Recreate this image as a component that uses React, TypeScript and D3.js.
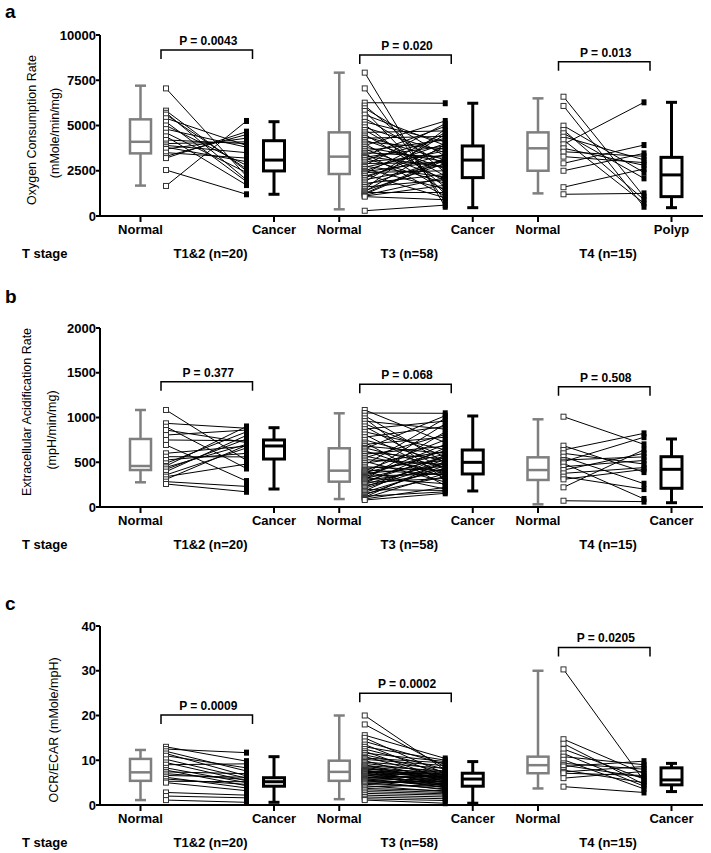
import React from "react";
import * as d3 from "d3";

const GROUP_LABELS = ["T1&2 (n=20)", "T3 (n=58)", "T4 (n=15)"];
const OCR_CATS = [["Normal", "Cancer"], ["Normal", "Cancer"], ["Normal", "Polyp"]];
const STD_CATS = [["Normal", "Cancer"], ["Normal", "Cancer"], ["Normal", "Cancer"]];

const OCR_TICKS = [0, 2500, 5000, 7500, 10000];
const ECAR_TICKS = [0, 500, 1000, 1500, 2000];
const RATIO_TICKS = [0, 10, 20, 30, 40];

const OCR_P = ["P = 0.0043", "P = 0.020", "P = 0.013"];
const ECAR_P = ["P = 0.377", "P = 0.068", "P = 0.508"];
const RATIO_P = ["P = 0.0009", "P = 0.0002", "P = 0.0205"];

const OCR_BRACKET = [9170, 8895, 8525];
const ECAR_BRACKET = [1400, 1371, 1344];
const RATIO_BRACKET = [20.1, 25.0, 35.2];

// box stats: [min, q1, median, q3, max]
const OCR_BOX_NORMAL = [[1680, 3460, 4100, 5340, 7200], [370, 2320, 3280, 4620, 7920], [1250, 2500, 3740, 4620, 6500]];
const OCR_BOX_CANCER = [[1200, 2490, 3090, 4160, 5210], [460, 2120, 3090, 3870, 6230], [460, 1070, 2270, 3240, 6280]];
const ECAR_BOX_NORMAL = [[276, 413, 458, 760, 1084], [89, 283, 406, 656, 1047], [30, 302, 413, 555, 980]];
const ECAR_BOX_CANCER = [[201, 536, 682, 749, 886], [179, 369, 499, 637, 1017], [48, 209, 421, 562, 760]];
const RATIO_BOX_NORMAL = [[1.1, 5.4, 7.3, 10.3, 12.3], [1.3, 5.4, 7.4, 9.9, 20.0], [3.7, 7.1, 8.9, 10.8, 30.0]];
const RATIO_BOX_CANCER = [[0.6, 4.2, 5.2, 6.1, 10.8], [0.4, 4.2, 5.8, 7.1, 9.7], [3.0, 4.5, 5.6, 8.3, 9.3]];

// paired values
const OCR_T12_NORMAL = [7050, 5820, 5700, 5600, 5400, 5200, 5000, 4800, 4600, 4400, 4200, 4000, 3900, 3800, 3700, 3500, 3300, 3200, 2540, 1660];
const OCR_T12_CANCER = [2200, 2500, 2000, 2600, 3900, 1900, 2800, 3800, 2400, 1710, 4000, 4100, 3500, 3000, 4300, 3200, 4500, 4660, 1200, 5250];
const OCR_T3_NORMAL = [7920, 7050, 6260, 6100, 5950, 5800, 5600, 5400, 5200, 5050, 4900, 4750, 4620, 4500, 4400, 4300, 4200, 4100, 4000, 3900, 3800, 3700, 3600, 3500, 3450, 3350, 3300, 3250, 3200, 3100, 3000, 2900, 2800, 2750, 2700, 2600, 2500, 2450, 2400, 2350, 2300, 2200, 2100, 2000, 1900, 1800, 1700, 1600, 1500, 1400, 1350, 1300, 1250, 1200, 1150, 1100, 1070, 290];
const OCR_T3_CANCER = [510, 800, 6230, 2400, 3300, 1200, 3900, 2800, 4100, 1600, 3500, 2200, 4700, 1900, 3100, 4400, 2600, 3700, 1400, 5250, 3000, 2050, 4200, 3250, 1100, 4950, 2700, 3870, 1800, 4300, 3350, 2950, 5100, 2150, 3600, 1500, 4000, 3050, 2500, 4600, 1000, 3400, 3800, 2850, 4500, 2300, 3150, 2000, 4800, 2900, 3950, 1300, 3200, 3090, 2120, 1700, 900, 600];
const OCR_T4_NORMAL = [6590, 6080, 4990, 4750, 4570, 4380, 4200, 3960, 3740, 3550, 3280, 2910, 2500, 1590, 1200];
const OCR_T4_CANCER = [1070, 510, 2400, 900, 2080, 3100, 700, 6280, 2800, 3300, 2950, 3920, 3460, 2600, 1250];

const ECAR_T12_NORMAL = [1084, 935, 897, 860, 804, 749, 693, 600, 562, 525, 488, 458, 443, 421, 395, 358, 339, 309, 283, 257];
const ECAR_T12_CANCER = [520, 880, 430, 720, 860, 740, 290, 680, 560, 600, 840, 900, 700, 760, 800, 660, 480, 690, 230, 170];
const ECAR_T3_NORMAL = [1084, 1050, 1020, 990, 960, 930, 900, 870, 840, 810, 780, 750, 720, 700, 680, 660, 650, 630, 610, 590, 570, 550, 530, 510, 490, 470, 450, 430, 415, 405, 395, 385, 375, 365, 355, 345, 335, 325, 315, 305, 295, 285, 275, 265, 255, 240, 225, 210, 195, 180, 165, 150, 135, 120, 110, 100, 90, 78];
const ECAR_T3_CANCER = [720, 1047, 495, 300, 870, 560, 415, 960, 640, 350, 900, 505, 240, 780, 600, 445, 1020, 330, 540, 680, 385, 810, 475, 280, 615, 990, 405, 520, 360, 750, 200, 590, 455, 930, 630, 370, 700, 260, 550, 840, 425, 570, 320, 660, 500, 395, 530, 485, 185, 580, 435, 340, 465, 170, 510, 375, 220, 153];
const ECAR_T4_NORMAL = [1009, 685, 637, 600, 562, 525, 506, 488, 450, 413, 376, 339, 309, 220, 70];
const ECAR_T4_CANCER = [700, 390, 823, 480, 260, 560, 780, 90, 520, 600, 440, 200, 420, 640, 60];

const RATIO_T12_NORMAL = [13.0, 12.5, 12.0, 11.5, 11.0, 10.2, 9.5, 9.0, 8.3, 7.8, 7.4, 7.0, 6.6, 6.2, 5.8, 5.3, 5.0, 2.8, 2.0, 1.1];
const RATIO_T12_CANCER = [9.8, 11.7, 7.6, 6.5, 8.3, 6.0, 5.4, 9.2, 5.0, 4.3, 7.0, 5.7, 6.2, 3.8, 4.6, 5.2, 3.2, 2.2, 1.6, 0.6];
const RATIO_T3_NORMAL = [20.0, 18.0, 15.6, 15.0, 14.2, 13.5, 13.0, 12.5, 12.0, 11.6, 11.2, 10.8, 10.5, 10.2, 9.9, 9.6, 9.3, 9.0, 8.8, 8.6, 8.4, 8.2, 8.0, 7.8, 7.7, 7.6, 7.5, 7.4, 7.4, 7.3, 7.2, 7.0, 6.9, 6.8, 6.6, 6.5, 6.3, 6.2, 6.0, 5.9, 5.8, 5.6, 5.5, 5.4, 5.2, 5.0, 4.8, 4.6, 4.3, 4.0, 3.7, 3.4, 3.0, 2.6, 2.2, 1.8, 1.4, 1.1];
const RATIO_T3_CANCER = [7.8, 8.5, 10.4, 7.0, 9.1, 6.4, 10.0, 8.0, 5.7, 9.7, 7.4, 6.0, 9.4, 8.8, 5.3, 8.2, 7.2, 4.9, 7.6, 6.8, 6.1, 5.8, 7.3, 4.5, 6.7, 5.9, 7.1, 5.0, 6.3, 6.9, 4.2, 5.5, 6.6, 3.8, 5.8, 6.2, 4.7, 5.2, 6.5, 4.0, 5.6, 4.4, 3.4, 5.1, 4.8, 3.6, 5.4, 4.1, 3.0, 4.6, 3.2, 2.8, 2.5, 2.2, 1.8, 1.4, 1.0, 0.4];
const RATIO_T4_NORMAL = [30.3, 14.7, 13.7, 12.5, 11.5, 10.8, 10.1, 9.3, 8.9, 8.6, 7.8, 7.4, 7.1, 6.0, 4.1];
const RATIO_T4_CANCER = [5.4, 7.0, 4.6, 5.8, 4.2, 9.0, 3.6, 8.0, 6.2, 9.8, 5.0, 8.6, 6.6, 7.5, 2.8];

const FONT = "'Liberation Sans', Arial, Helvetica, sans-serif";
const GRAY = "#7f7f7f";
const AXIS_X0 = 100;
const AXIS_X1 = 703;

const xGroup = d3.scaleLinear().domain([0, 2]).range([140.5, 538]);
const OFF = { nBox: 0, pN: 25.5, pC: 106, cBox: 133.5, label: 70 };

function BoxPlot({ x, stats, y, color, sw }) {
  const [mn, q1, md, q3, mx] = stats;
  const hw = 10.5;
  const cw = 5.5;
  return (
    <g stroke={color} strokeWidth={sw} fill="none">
      <line x1={x} x2={x} y1={y(mx)} y2={y(q3)} />
      <line x1={x} x2={x} y1={y(q1)} y2={y(mn)} />
      <line x1={x - cw} x2={x + cw} y1={y(mx)} y2={y(mx)} />
      <line x1={x - cw} x2={x + cw} y1={y(mn)} y2={y(mn)} />
      <rect x={x - hw} y={y(q3)} width={hw * 2} height={y(q1) - y(q3)} fill="white" />
      <line x1={x - hw} x2={x + hw} y1={y(md)} y2={y(md)} />
    </g>
  );
}

function Panel(props) {
  const { letter, letterY, domain, top, bottom, ticks, yLabels, boxN, boxC, pairsN, pairsC, pTexts, brackets, cats, fmt } = props;
  const y = d3.scaleLinear().domain(domain).range([bottom, top]);
  return (
    <g fontFamily={FONT}>
      <text x={5} y={letterY} fontSize={19} fontWeight="bold">{letter}</text>
      {yLabels.map((l, i) => (
        <text key={i} transform={`translate(${l.x},${l.cy}) rotate(-90)`} textAnchor="middle" dy="0.35em" fontSize={12.5}>{l.text}</text>
      ))}
      <line x1={AXIS_X0} x2={AXIS_X0} y1={y(domain[0]) + 1} y2={y(domain[1])} stroke="black" strokeWidth={2} />
      <line x1={AXIS_X0 - 1} x2={AXIS_X1} y1={bottom} y2={bottom} stroke="black" strokeWidth={2} />
      {ticks.map((t) => (
        <g key={t}>
          <line x1={AXIS_X0 - 4} x2={AXIS_X0} y1={y(t)} y2={y(t)} stroke="black" strokeWidth={2} />
          <text x={AXIS_X0 - 4} y={y(t)} dy="0.36em" textAnchor="end" fontSize={13} fontWeight="bold">{fmt(t)}</text>
        </g>
      ))}
      {[0, 1, 2].map((g) => {
        const gx = xGroup(g);
        const xn = gx + OFF.pN;
        const xc = gx + OFF.pC;
        const bY = y(brackets[g]);
        return (
          <g key={g}>
            <line x1={gx + OFF.nBox} x2={gx + OFF.nBox} y1={bottom} y2={bottom + 6} stroke="black" strokeWidth={2} />
            <line x1={gx + OFF.cBox} x2={gx + OFF.cBox} y1={bottom} y2={bottom + 6} stroke="black" strokeWidth={2} />
            <text x={gx + OFF.nBox} y={bottom + 18} textAnchor="middle" fontSize={13} fontWeight="bold">{cats[g][0]}</text>
            <text x={gx + OFF.cBox} y={bottom + 18} textAnchor="middle" fontSize={13} fontWeight="bold">{cats[g][1]}</text>
            <text x={gx + OFF.label} y={bottom + 42} textAnchor="middle" fontSize={13} fontWeight="bold">{GROUP_LABELS[g]}</text>
            <BoxPlot x={gx + OFF.nBox} stats={boxN[g]} y={y} color={GRAY} sw={2.5} />
            <BoxPlot x={gx + OFF.cBox} stats={boxC[g]} y={y} color="black" sw={3} />
            <path d={`M${xn - 5},${bY + 9}V${bY}H${xc + 6}V${bY + 9}`} fill="none" stroke="black" strokeWidth={1.5} />
            <text x={(xn + xc) / 2 + 2} y={bY - 5} textAnchor="middle" fontSize={12} fontWeight="bold">{pTexts[g]}</text>
            {pairsN[g].map((v, i) => (
              <line key={i} x1={xn} x2={xc} y1={y(v)} y2={y(pairsC[g][i])} stroke="black" strokeWidth={1} />
            ))}
            {pairsC[g].map((v, i) => (
              <rect key={"c" + i} x={xc - 2.5} y={y(v) - 3} width={5} height={6} fill="black" />
            ))}
            {pairsN[g].map((v, i) => (
              <rect key={"n" + i} x={xn - 2.5} y={y(v) - 2.5} width={5} height={5} fill="white" stroke="#333" strokeWidth={1} />
            ))}
          </g>
        );
      })}
      <text x={22} y={bottom + 42} fontSize={13} fontWeight="bold">T stage</text>
    </g>
  );
}

export default function App() {
  return (
    <svg width={711} height={853} style={{ position: "absolute", left: 0, top: 0, background: "white" }}>
      <rect width={711} height={853} fill="white" />
      <Panel
        letter="a" letterY={18} domain={[0, 10000]} top={35} bottom={216} ticks={OCR_TICKS} fmt={(t) => String(t)}
        yLabels={[{ text: "Oxygen Consumption Rate", x: 32, cy: 130 }, { text: "(mMole/min/mg)", x: 55, cy: 133 }]}
        boxN={OCR_BOX_NORMAL} boxC={OCR_BOX_CANCER}
        pairsN={[OCR_T12_NORMAL, OCR_T3_NORMAL, OCR_T4_NORMAL]}
        pairsC={[OCR_T12_CANCER, OCR_T3_CANCER, OCR_T4_CANCER]}
        pTexts={OCR_P} brackets={OCR_BRACKET} cats={OCR_CATS}
      />
      <Panel
        letter="b" letterY={303} domain={[0, 2000]} top={328} bottom={507} ticks={ECAR_TICKS} fmt={(t) => String(t)}
        yLabels={[{ text: "Extracellular Acidification Rate", x: 27, cy: 412 }, { text: "(mpH/min/mg)", x: 52, cy: 430 }]}
        boxN={ECAR_BOX_NORMAL} boxC={ECAR_BOX_CANCER}
        pairsN={[ECAR_T12_NORMAL, ECAR_T3_NORMAL, ECAR_T4_NORMAL]}
        pairsC={[ECAR_T12_CANCER, ECAR_T3_CANCER, ECAR_T4_CANCER]}
        pTexts={ECAR_P} brackets={ECAR_BRACKET} cats={STD_CATS}
      />
      <Panel
        letter="c" letterY={610} domain={[0, 40]} top={626} bottom={805} ticks={RATIO_TICKS} fmt={(t) => String(t)}
        yLabels={[{ text: "OCR/ECAR (mMole/mpH)", x: 54, cy: 730 }]}
        boxN={RATIO_BOX_NORMAL} boxC={RATIO_BOX_CANCER}
        pairsN={[RATIO_T12_NORMAL, RATIO_T3_NORMAL, RATIO_T4_NORMAL]}
        pairsC={[RATIO_T12_CANCER, RATIO_T3_CANCER, RATIO_T4_CANCER]}
        pTexts={RATIO_P} brackets={RATIO_BRACKET} cats={STD_CATS}
      />
    </svg>
  );
}
